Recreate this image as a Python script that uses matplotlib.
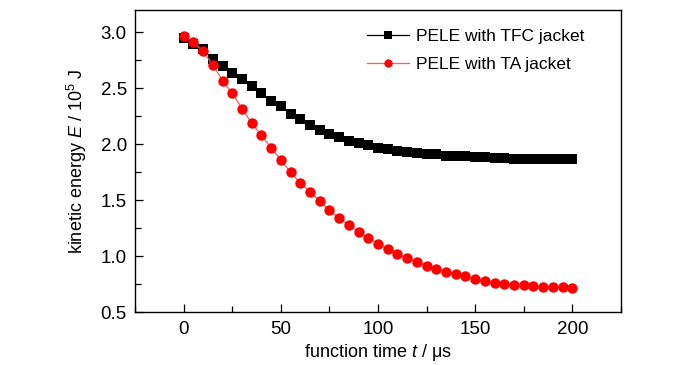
import numpy as np
import matplotlib
matplotlib.use("Agg")
import matplotlib.pyplot as plt
from matplotlib.ticker import MultipleLocator, FormatStrFormatter

time_us = list(range(0, 205, 5))
tfc = [2.946, 2.895, 2.848, 2.76, 2.70, 2.64, 2.58, 2.52, 2.46, 2.39,
       2.34, 2.27, 2.225, 2.175, 2.13, 2.094, 2.064, 2.034, 2.01, 1.99,
       1.97, 1.956, 1.94, 1.93, 1.92, 1.917, 1.91, 1.90, 1.897, 1.893,
       1.89, 1.885, 1.88, 1.875, 1.87, 1.87, 1.87, 1.87, 1.868, 1.868, 1.865]
ta = [2.97, 2.91, 2.83, 2.71, 2.57, 2.456, 2.32, 2.19, 2.08, 1.97,
      1.86, 1.75, 1.657, 1.574, 1.493, 1.41, 1.34, 1.278, 1.218, 1.164,
      1.113, 1.062, 1.018, 0.981, 0.949, 0.916, 0.889, 0.862, 0.841, 0.82,
      0.794, 0.778, 0.763, 0.751, 0.745, 0.74, 0.731, 0.725, 0.724, 0.722, 0.719]
labels = ["PELE with TFC jacket", "PELE with TA jacket"]

fam = ['Liberation Sans', 'DejaVu Sans']
plt.rcParams['font.family'] = fam
plt.rcParams['mathtext.fontset'] = 'custom'
plt.rcParams['mathtext.rm'] = 'Liberation Sans'
plt.rcParams['mathtext.it'] = 'Liberation Sans:italic'

fig = plt.figure(figsize=(7, 3.65), dpi=100)
ax = fig.add_axes([0.193, 0.1444, 0.694, 0.8282])

ax.plot(time_us, tfc, color='black', lw=0.9, marker='s', ms=6.5,
        markeredgewidth=0, label=labels[0])
ax.plot(time_us, ta, color='#ff5a5a', lw=0.9, marker='o', ms=7.5,
        markerfacecolor='red', markeredgewidth=0, label=labels[1])

ax.set_xlim(-25, 225)
ax.set_ylim(0.5, 3.2)
ax.xaxis.set_major_locator(MultipleLocator(50))
ax.xaxis.set_minor_locator(MultipleLocator(25))
ax.yaxis.set_major_locator(MultipleLocator(0.5))
ax.yaxis.set_minor_locator(MultipleLocator(0.25))
ax.yaxis.set_major_formatter(FormatStrFormatter('%.1f'))
ax.tick_params(which='both', direction='in', top=False, right=False,
               labelsize=13.5, colors='black')
ax.tick_params(which='major', length=6, width=0.9, pad=6)
ax.tick_params(which='minor', length=4, width=0.9)
for s in ax.spines.values():
    s.set_linewidth(1.0)

ax.set_xlabel('function time $t$ / μs', fontsize=13, labelpad=3)
ax.set_ylabel('kinetic energy $E$ / 10$^5$ J', fontsize=13, labelpad=8)

ax.legend(loc='upper right', frameon=False, fontsize=12.5, handlelength=2.4,
          handletextpad=0.4, borderaxespad=0.0, borderpad=0.3,
          labelspacing=0.75, markerscale=0.8, bbox_to_anchor=(0.935, 0.955))

fig.savefig('out.png', dpi=100)
